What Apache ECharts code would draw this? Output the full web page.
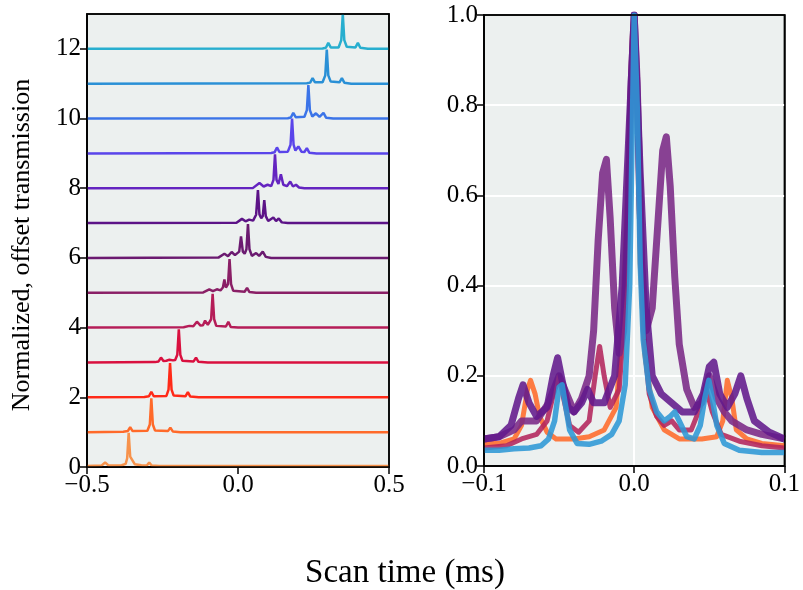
<!DOCTYPE html>
<html><head><meta charset="utf-8">
<script src="https://cdn.jsdelivr.net/npm/echarts@6/dist/echarts.min.js"></script>
<style>html,body{margin:0;padding:0;background:#fff}#c{width:803px;height:590px}</style>
</head><body><div id="c"></div>
<script>
// ---- Left panel: normalized traces (value above baseline), offset by index ----
const t0 = [[-0.5,0.03],[-0.452,0.04],[-0.44,0.13],[-0.428,0.04],[-0.385,0.05],[-0.372,0.09],[-0.367,0.25],[-0.362,0.98],[-0.357,0.3],[-0.35,0.2],[-0.342,0.08],[-0.32,0.05],[-0.302,0.04],[-0.294,0.13],[-0.286,0.04],[-0.26,0.03],[0.5,0.03]];
const t1 = [[-0.5,0],[-0.38,0.01],[-0.365,0.03],[-0.357,0.14],[-0.349,0.03],[-0.3,0.04],[-0.292,0.22],[-0.287,0.97],[-0.282,0.22],[-0.275,0.05],[-0.232,0.03],[-0.224,0.13],[-0.216,0.02],[-0.19,0],[0.5,0]];
const t2 = [[-0.5,0],[-0.31,0.01],[-0.295,0.03],[-0.287,0.16],[-0.279,0.03],[-0.237,0.04],[-0.23,0.22],[-0.225,0.98],[-0.22,0.22],[-0.213,0.05],[-0.174,0.03],[-0.166,0.15],[-0.158,0.02],[-0.13,0],[0.5,0]];
const t3 = [[-0.5,0],[-0.275,0.01],[-0.263,0.03],[-0.255,0.14],[-0.247,0.04],[-0.237,0.05],[-0.227,0.08],[-0.215,0.06],[-0.208,0.07],[-0.201,0.22],[-0.196,0.95],[-0.191,0.22],[-0.184,0.05],[-0.147,0.03],[-0.139,0.14],[-0.131,0.02],[-0.1,0],[0.5,0]];
const t4 = [[-0.5,0],[-0.18,0.01],[-0.161,0.05],[-0.148,0.04],[-0.136,0.17],[-0.124,0.06],[-0.116,0.07],[-0.109,0.2],[-0.1,0.08],[-0.089,0.24],[-0.084,0.97],[-0.079,0.24],[-0.072,0.05],[-0.04,0.03],[-0.032,0.17],[-0.024,0.02],[0,0],[0.5,0]];
const t5 = [[-0.5,0],[-0.115,0.01],[-0.095,0.1],[-0.083,0.05],[-0.07,0.1],[-0.058,0.07],[-0.05,0.15],[-0.045,0.38],[-0.04,0.15],[-0.033,0.25],[-0.028,0.97],[-0.023,0.25],[-0.016,0.06],[0.022,0.03],[0.03,0.14],[0.038,0.02],[0.06,0],[0.5,0]];
const t6 = [[-0.5,0],[-0.065,0.01],[-0.045,0.12],[-0.033,0.05],[-0.021,0.17],[-0.01,0.08],[0.004,0.18],[0.01,0.62],[0.016,0.18],[0.022,0.12],[0.028,0.25],[0.033,0.97],[0.038,0.25],[0.046,0.06],[0.06,0.14],[0.07,0.06],[0.082,0.18],[0.092,0.03],[0.11,0],[0.5,0]];
const t7 = [[-0.5,0],[-0.005,0.01],[0.013,0.12],[0.025,0.05],[0.037,0.1],[0.05,0.07],[0.06,0.24],[0.066,0.95],[0.071,0.25],[0.077,0.14],[0.082,0.2],[0.087,0.66],[0.092,0.2],[0.1,0.06],[0.117,0.16],[0.126,0.06],[0.135,0.13],[0.145,0.02],[0.165,0],[0.5,0]];
const t8 = [[-0.5,0],[0.05,0.01],[0.071,0.15],[0.085,0.05],[0.098,0.1],[0.11,0.06],[0.1175,0.24],[0.1225,0.97],[0.1275,0.24],[0.134,0.12],[0.142,0.4],[0.15,0.1],[0.162,0.06],[0.173,0.19],[0.182,0.05],[0.192,0.1],[0.202,0.02],[0.22,0],[0.5,0]];
const t9 = [[-0.5,0],[0.11,0.01],[0.121,0.03],[0.129,0.17],[0.137,0.04],[0.165,0.05],[0.174,0.25],[0.179,1.0],[0.184,0.25],[0.19,0.08],[0.2,0.2],[0.21,0.05],[0.22,0.04],[0.228,0.15],[0.236,0.02],[0.26,0],[0.5,0]];
const t10 = [[-0.5,0],[0.165,0.01],[0.175,0.03],[0.183,0.16],[0.191,0.04],[0.22,0.05],[0.228,0.24],[0.233,0.96],[0.238,0.24],[0.246,0.06],[0.258,0.15],[0.27,0.05],[0.283,0.16],[0.292,0.02],[0.315,0],[0.5,0]];
const t11 = [[-0.5,0],[0.228,0.01],[0.239,0.03],[0.247,0.16],[0.255,0.04],[0.28,0.04],[0.289,0.24],[0.294,0.98],[0.299,0.24],[0.307,0.06],[0.336,0.04],[0.344,0.16],[0.352,0.03],[0.375,0],[0.5,0]];
const t12 = [[-0.5,0],[0.28,0.01],[0.291,0.03],[0.299,0.17],[0.307,0.04],[0.333,0.04],[0.342,0.25],[0.347,1.0],[0.352,0.25],[0.36,0.06],[0.389,0.04],[0.397,0.17],[0.405,0.03],[0.43,0],[0.5,0]];
const leftTraces = [t0,t1,t2,t3,t4,t5,t6,t7,t8,t9,t10,t11,t12];
const leftColors = ['#f7924b','#ff6a2a','#ff2a18','#d9103f','#b51d58','#8a1f66','#6b1a70','#5c1387','#6424c0','#5a45ea','#3b74e8','#2a90d6','#27aecf'];

// ---- Right panel: overlaid normalized traces centred on main peak ----
const rOrange = [[-0.1,0.05],[-0.09,0.05],[-0.08,0.06],[-0.075,0.09],[-0.071,0.17],[-0.069,0.19],[-0.066,0.16],[-0.063,0.11],[-0.058,0.075],[-0.052,0.06],[-0.04,0.06],[-0.03,0.065],[-0.02,0.08],[-0.012,0.13],[-0.008,0.3],[-0.005,0.55],[-0.003,0.8],[-0.001,0.97],[0,1.0],[0.002,0.85],[0.004,0.45],[0.007,0.25],[0.012,0.13],[0.02,0.08],[0.03,0.06],[0.045,0.06],[0.055,0.065],[0.059,0.1],[0.062,0.19],[0.065,0.15],[0.068,0.08],[0.075,0.06],[0.085,0.05],[0.1,0.045]];
const rCrimson = [[-0.1,0.04],[-0.085,0.045],[-0.075,0.06],[-0.065,0.07],[-0.058,0.1],[-0.053,0.17],[-0.05,0.2],[-0.047,0.15],[-0.043,0.09],[-0.037,0.075],[-0.03,0.1],[-0.026,0.2],[-0.023,0.265],[-0.02,0.2],[-0.016,0.13],[-0.01,0.17],[-0.006,0.35],[-0.003,0.7],[0,1.0],[0.003,0.6],[0.006,0.3],[0.01,0.16],[0.015,0.11],[0.02,0.09],[0.025,0.1],[0.03,0.08],[0.038,0.08],[0.044,0.13],[0.048,0.17],[0.052,0.12],[0.058,0.07],[0.07,0.055],[0.085,0.045],[0.1,0.04]];
const rPurpleA = [[-0.1,0.06],[-0.09,0.065],[-0.08,0.08],[-0.075,0.1],[-0.065,0.1],[-0.057,0.14],[-0.05,0.2],[-0.045,0.16],[-0.04,0.12],[-0.035,0.15],[-0.03,0.2],[-0.027,0.3],[-0.024,0.5],[-0.021,0.65],[-0.0185,0.68],[-0.016,0.55],[-0.013,0.35],[-0.01,0.25],[-0.007,0.3],[-0.004,0.55],[-0.002,0.85],[0,1.0],[0.002,0.85],[0.005,0.45],[0.008,0.3],[0.012,0.35],[0.016,0.55],[0.019,0.7],[0.0214,0.73],[0.024,0.62],[0.027,0.42],[0.03,0.27],[0.035,0.17],[0.04,0.13],[0.045,0.14],[0.05,0.2],[0.055,0.15],[0.06,0.12],[0.065,0.1],[0.075,0.08],[0.085,0.07],[0.1,0.06]];
const rPurpleB = [[-0.1,0.06],[-0.09,0.065],[-0.082,0.09],[-0.077,0.15],[-0.074,0.18],[-0.07,0.14],[-0.065,0.11],[-0.058,0.13],[-0.054,0.2],[-0.051,0.24],[-0.048,0.19],[-0.044,0.13],[-0.04,0.12],[-0.035,0.14],[-0.031,0.17],[-0.027,0.14],[-0.02,0.14],[-0.013,0.2],[-0.008,0.4],[-0.004,0.7],[0,1.0],[0.004,0.65],[0.008,0.35],[0.012,0.2],[0.018,0.16],[0.025,0.14],[0.032,0.12],[0.04,0.12],[0.046,0.16],[0.05,0.22],[0.053,0.23],[0.057,0.16],[0.062,0.13],[0.067,0.16],[0.071,0.2],[0.075,0.15],[0.08,0.1],[0.09,0.075],[0.1,0.06]];
const rBlue = [[-0.1,0.035],[-0.09,0.035],[-0.08,0.038],[-0.07,0.04],[-0.062,0.045],[-0.057,0.06],[-0.053,0.1],[-0.05,0.175],[-0.048,0.18],[-0.046,0.14],[-0.043,0.08],[-0.038,0.05],[-0.03,0.048],[-0.022,0.055],[-0.015,0.07],[-0.01,0.1],[-0.006,0.18],[-0.003,0.4],[-0.001,0.8],[0,1.0],[0.002,0.8],[0.004,0.45],[0.006,0.28],[0.01,0.17],[0.015,0.12],[0.02,0.1],[0.024,0.11],[0.027,0.12],[0.03,0.1],[0.035,0.065],[0.04,0.06],[0.044,0.09],[0.047,0.15],[0.0497,0.19],[0.052,0.15],[0.055,0.09],[0.06,0.05],[0.07,0.035],[0.085,0.03],[0.1,0.03]];
const rightTraces = [rOrange, rCrimson, rPurpleA, rPurpleB, rBlue];
const rightColors = ['#ff6a2a','#b3245c','#7a2886','#62198c','#2e97d6'];
const rightWidths = [5, 5, 7, 7, 5.5];

// ---- Ticks ----
const leftXTicks = [-0.5, 0, 0.5];
const leftYTicks = [0, 2, 4, 6, 8, 10, 12];
const rightXTicks = [-0.1, 0, 0.1];
const rightYTicks = [0, 0.2, 0.4, 0.6, 0.8, 1.0];

const FONT = 'Liberation Serif';
const fmt1 = v => (v < -1e-9 ? '\u2212' : '') + Math.abs(v).toFixed(1);
const bg = '#ecf0ef';

function axisCommon(ticks, formatter) {
  return {
    axisLine: {show: true, onZero: false, lineStyle: {color: '#000', width: 1.5}},
    axisTick: {show: true, length: 7, lineStyle: {color: '#000', width: 1.5}, customValues: ticks},
    axisLabel: {color: '#000', fontFamily: FONT, fontSize: 25, formatter: formatter, customValues: ticks, margin: 6},
  };
}

const series = [];
leftTraces.forEach((tr, k) => {
  series.push({
    type: 'line', xAxisIndex: 0, yAxisIndex: 0, symbol: 'none', silent: true,
    data: tr.map(p => [p[0], p[1] + k]),
    lineStyle: {color: leftColors[k], width: 2.5},
    clip: true
  });
});
rightTraces.forEach((tr, k) => {
  series.push({
    type: 'line', xAxisIndex: 1, yAxisIndex: 1, symbol: 'none', silent: true,
    data: tr,
    lineStyle: {color: rightColors[k], width: rightWidths[k], opacity: 0.88, join: 'round'},
    clip: true
  });
});

const chart = echarts.init(document.getElementById('c'), null, {renderer: 'canvas'});
chart.setOption({
  animation: false,
  backgroundColor: '#fff',
  grid: [
    {left: 87, top: 14, width: 302, height: 453, show: true, backgroundColor: bg, borderColor: '#000', borderWidth: 1.5},
    {left: 484, top: 15, width: 301, height: 451, show: true, backgroundColor: bg, borderColor: '#000', borderWidth: 1.5}
  ],
  xAxis: [
    Object.assign({type: 'value', gridIndex: 0, min: -0.5, max: 0.5, interval: 0.5, splitLine: {show: false}}, axisCommon(leftXTicks, fmt1)),
    Object.assign({type: 'value', gridIndex: 1, min: -0.1, max: 0.1, interval: 0.1,
      splitLine: {show: true, showMinLine: false, showMaxLine: false, lineStyle: {color: '#fff', width: 2}}}, axisCommon(rightXTicks, fmt1))
  ],
  yAxis: [
    Object.assign({type: 'value', gridIndex: 0, min: 0, max: 13, interval: 1, splitLine: {show: false}}, axisCommon(leftYTicks, v => String(Math.round(v)))),
    Object.assign({type: 'value', gridIndex: 1, min: 0, max: 1, interval: 0.2,
      splitLine: {show: true, showMinLine: false, showMaxLine: false, lineStyle: {color: '#fff', width: 2}}}, axisCommon(rightYTicks, v => v.toFixed(1)))
  ],
  graphic: [
    {type: 'text', x: 22, y: 245, rotation: Math.PI / 2, z: 100,
      style: {text: 'Normalized, offset transmission', x: 0, y: 0, align: 'center', verticalAlign: 'middle', font: '26px "Liberation Serif"', fill: '#000'}},
    {type: 'text', x: 405, y: 573, z: 100,
      style: {text: 'Scan time (ms)', x: 0, y: 0, align: 'center', verticalAlign: 'middle', font: '33px "Liberation Serif"', fill: '#000'}},
    {type: 'rect', z: 100, silent: true, shape: {x: 484, y: 15, width: 301, height: 451},
      style: {fill: 'none', stroke: '#000', lineWidth: 1.5}},
    {type: 'rect', z: 100, silent: true, shape: {x: 87, y: 14, width: 302, height: 453},
      style: {fill: 'none', stroke: '#000', lineWidth: 1.5}}
  ],
  series: series
});
</script></body></html>
